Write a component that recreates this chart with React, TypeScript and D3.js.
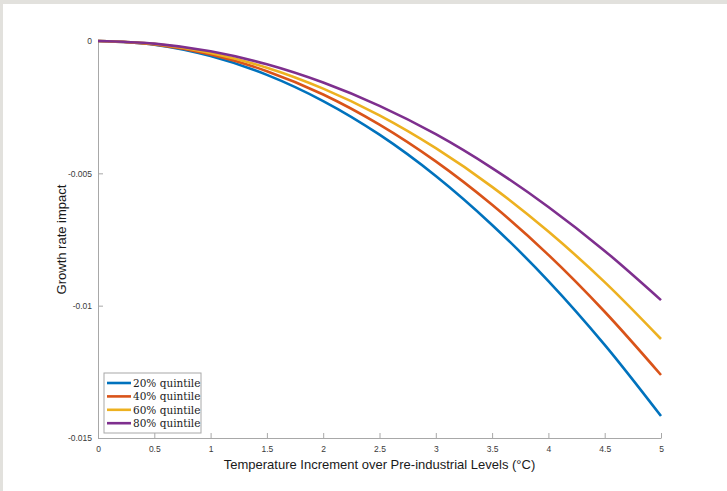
import * as React from "react";
import * as d3 from "d3";

const temps = [0, 0.5, 1, 1.5, 2, 2.5, 3, 3.5, 4, 4.5, 5];
const q20 = [0, -0.00014, -0.00057, -0.00128, -0.00227, -0.00354, -0.0051, -0.00695, -0.00907, -0.01148, -0.01417];
const q40 = [0, -0.00013, -0.000505, -0.00114, -0.00202, -0.00316, -0.00455, -0.00619, -0.00808, -0.01023, -0.01262];
const q60 = [0, -0.00011, -0.00045, -0.00101, -0.0018, -0.00281, -0.00405, -0.00551, -0.0072, -0.00911, -0.01126];
const q80 = [0, -0.0001, -0.00039, -0.00088, -0.00157, -0.00245, -0.00352, -0.0048, -0.00627, -0.00793, -0.00979];

const seriesNames = ["20% quintile", "40% quintile", "60% quintile", "80% quintile"];
const colors = ["#0072BD", "#D95319", "#EDB120", "#7E2F8E"];
const xTicks = [0, 0.5, 1, 1.5, 2, 2.5, 3, 3.5, 4, 4.5, 5];
const yTicks = [0, -0.005, -0.01, -0.015];

const W = 727;
const H = 491;
const margin = { top: 41, right: 66, bottom: 53, left: 98 };

export default function App() {
  const ref = React.useRef<SVGSVGElement>(null);

  React.useEffect(() => {
    const svg = d3.select(ref.current);
    svg.selectAll("*").remove();

    // page frame
    svg.append("rect").attr("width", W).attr("height", H).attr("fill", "#ffffff");
    svg.append("rect").attr("width", W).attr("height", 4).attr("fill", "#e2e1dd");
    svg.append("rect").attr("width", 3).attr("height", H).attr("fill", "#e2e1dd");

    const x = d3.scaleLinear().domain([0, 5]).range([margin.left, W - margin.right]);
    const y = d3.scaleLinear().domain([-0.015, 0]).range([H - margin.bottom, margin.top]);

    const font = "'Liberation Sans', Arial, Helvetica, sans-serif";

    // axes
    const xAxis = svg
      .append("g")
      .attr("transform", `translate(0,${y(-0.015)})`)
      .call(d3.axisBottom(x).tickValues(xTicks).tickSizeInner(-5).tickSizeOuter(0).tickPadding(8).tickFormat((d) => String(d)));
    const yAxis = svg
      .append("g")
      .attr("transform", `translate(${x(0)},0)`)
      .call(d3.axisLeft(y).tickValues(yTicks).tickSizeInner(-5).tickSizeOuter(0).tickPadding(6).tickFormat((d) => String(d)));

    [xAxis, yAxis].forEach((g) => {
      g.select(".domain").attr("stroke", "#a8a8a8").attr("stroke-width", 1);
      g.selectAll(".tick line").attr("stroke", "#a8a8a8");
      g.selectAll(".tick text").attr("fill", "#3a3a3a").style("font-family", font).style("font-size", "8.5px");
    });

    // lines
    const allSeries = [q20, q40, q60, q80];
    const line = d3
      .line<number>()
      .x((_, i) => x(temps[i]))
      .y((d) => y(d))
      .curve(d3.curveCatmullRom);

    allSeries.forEach((s, i) => {
      svg
        .append("path")
        .datum(s)
        .attr("fill", "none")
        .attr("stroke", colors[i])
        .attr("stroke-width", 2.6)
        .attr("d", line);
    });

    // axis labels
    svg
      .append("text")
      .attr("x", (x(0) + x(5)) / 2)
      .attr("y", 469)
      .attr("text-anchor", "middle")
      .attr("fill", "#1a1a1a")
      .style("font-family", font)
      .style("font-size", "13px")
      .text("Temperature Increment over Pre-industrial Levels (°C)");

    svg
      .append("text")
      .attr("transform", `translate(66,${(y(0) + y(-0.015)) / 2}) rotate(-90)`)
      .attr("text-anchor", "middle")
      .attr("fill", "#1a1a1a")
      .style("font-family", font)
      .style("font-size", "13px")
      .text("Growth rate impact");

    // legend
    const leg = svg.append("g").attr("transform", "translate(104,373)");
    leg
      .append("rect")
      .attr("width", 97)
      .attr("height", 60)
      .attr("fill", "#ffffff")
      .attr("stroke", "#a8a8a8")
      .attr("stroke-width", 1);

    seriesNames.forEach((name, i) => {
      const ry = 10 + i * 13.4;
      leg
        .append("line")
        .attr("x1", 3)
        .attr("x2", 27)
        .attr("y1", ry)
        .attr("y2", ry)
        .attr("stroke", colors[i])
        .attr("stroke-width", 2.6);
      leg
        .append("text")
        .attr("x", 29)
        .attr("y", ry + 4)
        .attr("fill", "#222")
        .style("font-family", "'DejaVu Serif', 'Liberation Serif', serif")
        .style("font-size", "10.5px")
        .text(name);
    });
  }, []);

  return (
    <div style={{ position: "fixed", left: 0, top: 0, width: W, height: H }}>
      <svg ref={ref} width={W} height={H} style={{ display: "block" }} />
    </div>
  );
}
